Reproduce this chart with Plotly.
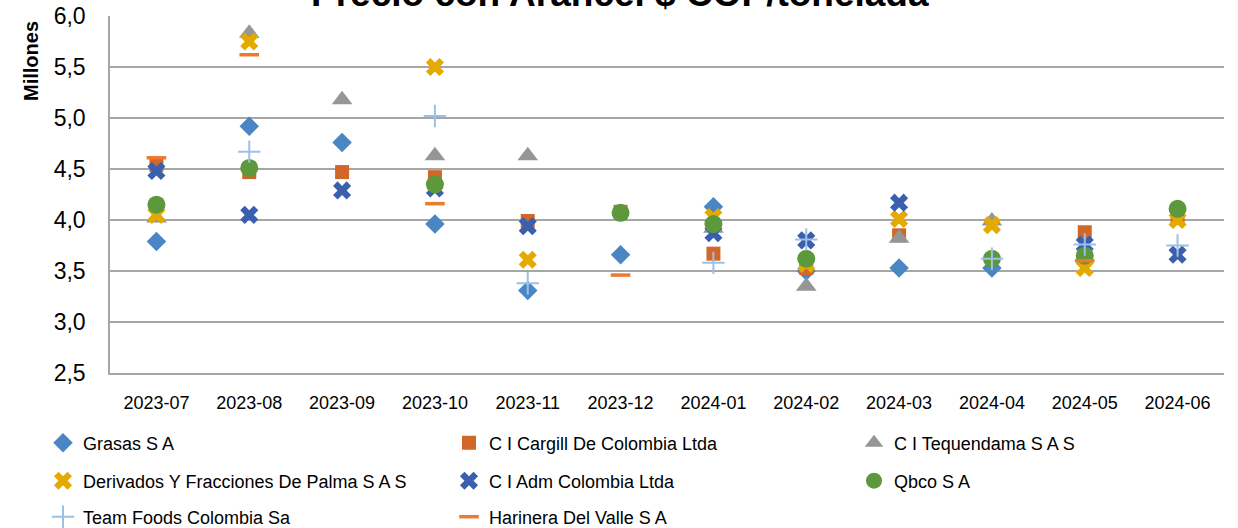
import plotly.graph_objects as go

months = ["2023-07", "2023-08", "2023-09", "2023-10", "2023-11", "2023-12",
          "2024-01", "2024-02", "2024-03", "2024-04", "2024-05", "2024-06"]

grasas = [3.79, 4.92, 4.76, 3.96, 3.31, 3.66, 4.13, 3.50, 3.53, 3.53, None, None]
cargill = [4.54, 4.47, 4.47, 4.42, 3.99, 4.08, 3.67, 3.53, 3.85, None, 3.88, 4.02]
tequendama = [4.02, 5.83, 5.18, 4.63, 4.63, None, 3.92, 3.35, 3.82, 3.99, None, None]
derivados = [4.05, 5.75, None, 5.50, 3.61, None, 4.03, 3.57, 4.01, 3.95, 3.53, 4.00]
adm = [4.48, 4.05, 4.29, 4.31, 3.94, None, 3.87, 3.80, 4.17, None, 3.76, 3.66]
qbco = [4.15, 4.51, None, 4.35, None, 4.07, 3.96, 3.62, None, 3.62, 3.65, 4.11]
teamfoods = [None, 4.67, None, 5.02, 3.38, None, 3.58, 3.81, None, 3.62, 3.76, 3.75]
harinera = [4.61, 5.62, None, 4.16, None, 3.46, None, None, None, None, 3.60, None]

series = [
    ("Grasas S A", grasas, "diamond", "#4a86c4", 15),
    ("C I Cargill De Colombia Ltda", cargill, "square", "#d2672a", 14),
    ("C I Tequendama S A S", tequendama, "triangle-up", "#969696", 18),
    ("Derivados Y Fracciones De Palma S A S", derivados, "x", "#e4aa00", 16),
    ("C I Adm Colombia Ltda", adm, "x", "#3a5fae", 16),
    ("Qbco S A", qbco, "circle", "#5e983c", 18),
    ("Team Foods Colombia Sa", teamfoods, "cross-thin", "#9dc0e6", 16),
    ("Harinera Del Valle S A", harinera, "line-ew", "#ec7a2f", 14),
]

# legend slots: (marker centre x px, row centre y px)
legend_cols = [64, 470, 875]
legend_rows = [443, 481, 517]

font = "Liberation Sans"
W, H = 1238, 528

fig = go.Figure()
legends = {}
for i, (name, vals, sym, col, size) in enumerate(series):
    marker = dict(symbol=sym, color=col, size=size, line=dict(width=0))
    if sym in ("cross-thin", "line-ew"):
        marker["line"] = dict(width=2 if sym == "cross-thin" else 3.5, color=col)
    key = f"legend{i + 2}"
    fig.add_trace(go.Scatter(x=months, y=vals, mode="markers", name=name,
                             marker=marker, legend=key, cliponaxis=False,
                             showlegend=True))
    cx = legend_cols[i % 3]
    cy = legend_rows[i // 3]
    legends[key] = dict(orientation="h", xref="container", yref="container",
                        x=(cx - 21) / W, y=1 - cy / H, xanchor="left", yanchor="middle",
                        font=dict(size=18, family=font),
                        bgcolor="rgba(0,0,0,0)")

fig.update_layout(
    width=W, height=H,
    showlegend=True,
    margin=dict(l=110, r=14, t=16, b=155, autoexpand=False),
    plot_bgcolor="white", paper_bgcolor="white",
    separators=",.",
    font=dict(family=font, color="#000000"),
    xaxis=dict(type="category", range=[-0.5, 11.5], showgrid=False, showline=True,
               linecolor="#a6a6a6", linewidth=1.5, zeroline=False,
               tickfont=dict(size=18, family=font), ticks="",
               ticklabelstandoff=13),
    yaxis=dict(range=[2.5, 6.0], dtick=0.5, tickformat=".1f",
               showgrid=True, gridcolor="#a6a6a6", gridwidth=1.5,
               showline=True, linecolor="#a6a6a6", linewidth=1.5,
               zeroline=False, tickfont=dict(size=23, family=font),
               ticklabelstandoff=18),
    annotations=[
        dict(text="<b>Precio con Arancel $ COP/tonelada</b>", xref="paper", yref="paper",
             x=0.458, y=1.0, xanchor="center", yanchor="bottom", showarrow=False,
             font=dict(size=37, family=font)),
        dict(text="<b>Millones</b>", xref="paper", yref="paper", textangle=-90,
             x=(31 - 110) / 1114, y=(373 - 61) / 357, xanchor="center", yanchor="middle",
             showarrow=False, font=dict(size=20, family=font)),
    ],
    **legends,
)

fig.write_html("out.html", config={"displayModeBar": False},
               post_script="document.body.style.margin='0';document.body.style.overflow='hidden';")
